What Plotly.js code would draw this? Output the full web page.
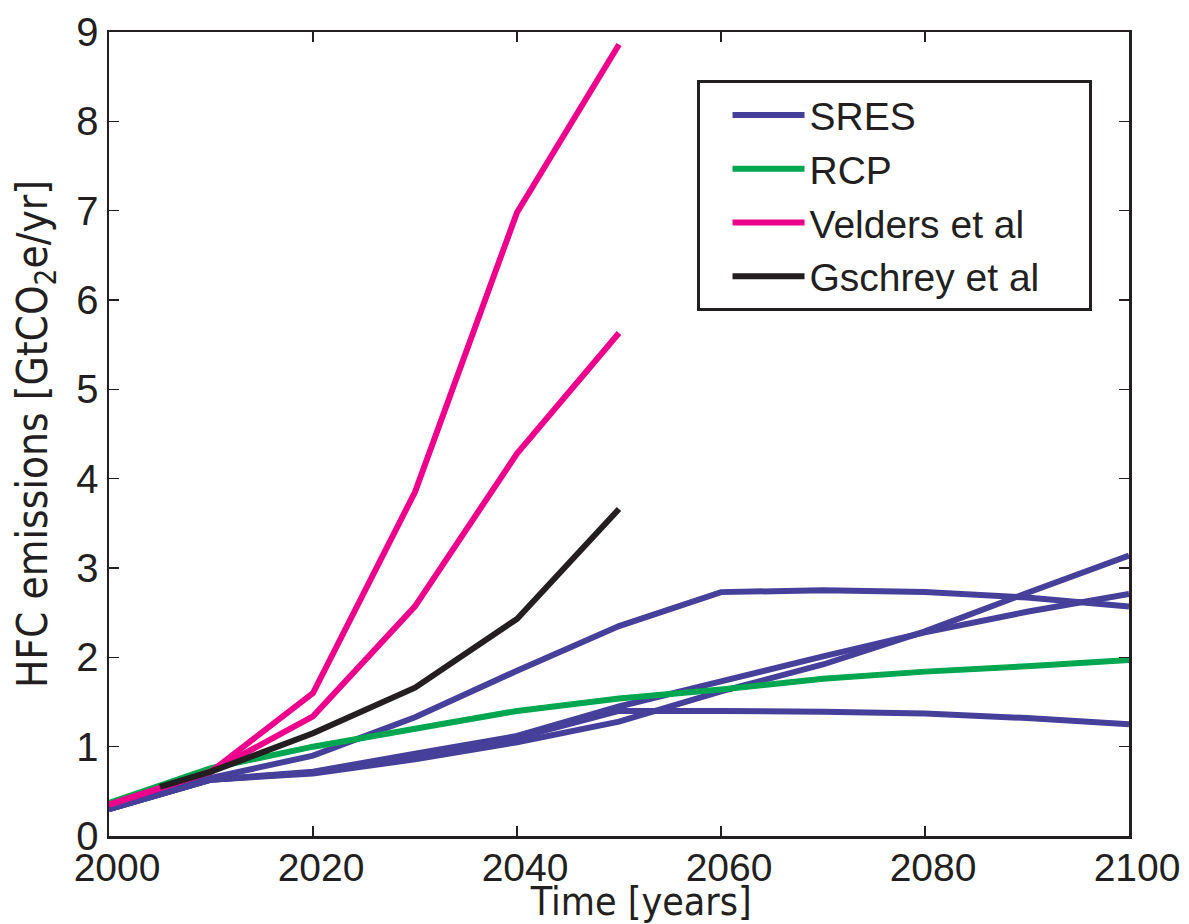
<!DOCTYPE html>
<html>
<head>
<meta charset="utf-8">
<script src="https://cdn.plot.ly/plotly-3.0.1.min.js"></script>
<style>html,body{margin:0;padding:0;background:#fff;}#chart{width:1189px;height:924px;}</style>
</head>
<body>
<div id="chart"></div>
<script>
// Years
const yearsFull = [2000, 2010, 2020, 2030, 2040, 2050, 2060, 2070, 2080, 2090, 2100];
const yearsVelders = [2000, 2010, 2020, 2030, 2040, 2050];
const yearsGschrey = [2005, 2010, 2020, 2030, 2040, 2050];

// SRES scenarios (GtCO2e/yr)
const sresA = [0.30, 0.65, 0.90, 1.33, 1.85, 2.35, 2.73, 2.75, 2.73, 2.67, 2.57];
const sresB = [0.30, 0.63, 0.70, 0.86, 1.05, 1.28, 1.62, 1.92, 2.29, 2.72, 3.14];
const sresC = [0.30, 0.63, 0.72, 0.92, 1.12, 1.45, 1.73, 2.01, 2.28, 2.51, 2.71];
const sresD = [0.30, 0.63, 0.71, 0.88, 1.10, 1.40, 1.40, 1.39, 1.37, 1.32, 1.25];
// RCP
const rcp = [0.37, 0.76, 1.00, 1.20, 1.40, 1.54, 1.64, 1.76, 1.84, 1.90, 1.97];
// Velders et al (upper and lower)
const veldersHigh = [0.35, 0.72, 1.60, 3.85, 6.98, 8.86];
const veldersLow = [0.35, 0.72, 1.34, 2.57, 4.28, 5.63];
// Gschrey et al
const gschrey = [0.55, 0.72, 1.15, 1.66, 2.43, 3.66];

const seriesNames = ['SRES', 'RCP', 'Velders et al', 'Gschrey et al'];
const xTicks = [2000, 2020, 2040, 2060, 2080, 2100];
const yTicks = [0, 1, 2, 3, 4, 5, 6, 7, 8, 9];

const BLUE = '#46409a', GREEN = '#00a650', PINK = '#ec008c', BLACK = '#231f20';
const LW = 6;
// right-hand padding inside the legend box
const legendPad = '\u00a0\u00a0\u00a0\u00a0';

function tr(x, y, name, color, show) {
  return {
    type: 'scatter', mode: 'lines', x: x, y: y, name: name + legendPad,
    legendgroup: name, showlegend: show,
    line: {color: color, width: LW, simplify: false},
    hoverinfo: 'x+y+name'
  };
}

const data = [
  tr(yearsFull, sresA, seriesNames[0], BLUE, true),
  tr(yearsFull, sresB, seriesNames[0], BLUE, false),
  tr(yearsFull, sresC, seriesNames[0], BLUE, false),
  tr(yearsFull, sresD, seriesNames[0], BLUE, false),
  tr(yearsFull, rcp, seriesNames[1], GREEN, true),
  tr(yearsVelders, veldersHigh, seriesNames[2], PINK, true),
  tr(yearsVelders, veldersLow, seriesNames[2], PINK, false),
  tr(yearsGschrey, gschrey, seriesNames[3], BLACK, true)
];

const narrow = 'Liberation Sans Narrow, DejaVu Sans Condensed, Liberation Sans, sans-serif';
const tickFontY = {family: 'Liberation Sans, Arial, sans-serif', size: 40, color: BLACK};
const tickFontX = {family: 'Liberation Sans, Arial, sans-serif', size: 39, color: BLACK};

const layout = {
  width: 1189, height: 924,
  margin: {l: 109, r: 60, t: 32, b: 88, pad: 0},
  paper_bgcolor: '#ffffff', plot_bgcolor: '#ffffff',
  showlegend: true,
  legend: {
    x: 0.576, y: 0.94, xanchor: 'left', yanchor: 'top',
    bgcolor: '#ffffff', bordercolor: BLACK, borderwidth: 3,
    font: {family: 'Liberation Sans, Arial, sans-serif', size: 39, color: BLACK},
    itemwidth: 72, indentation: 28, tracegroupgap: 0,
    traceorder: 'normal'
  },
  xaxis: {
    range: [2000, 2100], tickvals: xTicks, ticktext: xTicks.map(String),
    ticks: 'inside', ticklen: 10, tickwidth: 1.5, tickcolor: BLACK,
    showline: true, linecolor: BLACK, linewidth: 2.5, mirror: 'ticks',
    showgrid: false, zeroline: false,
    tickfont: tickFontX, ticklabelstandoff: -4, ticklabelshift: 8,
    title: {text: '&nbsp;&nbsp;&nbsp;&nbsp;Time [years]', font: {family: narrow, size: 39, color: BLACK}, standoff: 0}
  },
  yaxis: {
    range: [0, 9], tickvals: yTicks, ticktext: yTicks.map(String),
    ticks: 'inside', ticklen: 10, tickwidth: 1.5, tickcolor: BLACK,
    showline: true, linecolor: BLACK, linewidth: 2.5, mirror: 'ticks',
    showgrid: false, zeroline: false,
    tickfont: tickFontY,
    title: {text: 'HFC emissions [GtCO<sub>2</sub>e/yr]', font: {family: narrow, size: 42, color: BLACK}, standoff: 16}
  }
};

Plotly.newPlot('chart', data, layout, {displayModeBar: false, staticPlot: true});
</script>
</body>
</html>
